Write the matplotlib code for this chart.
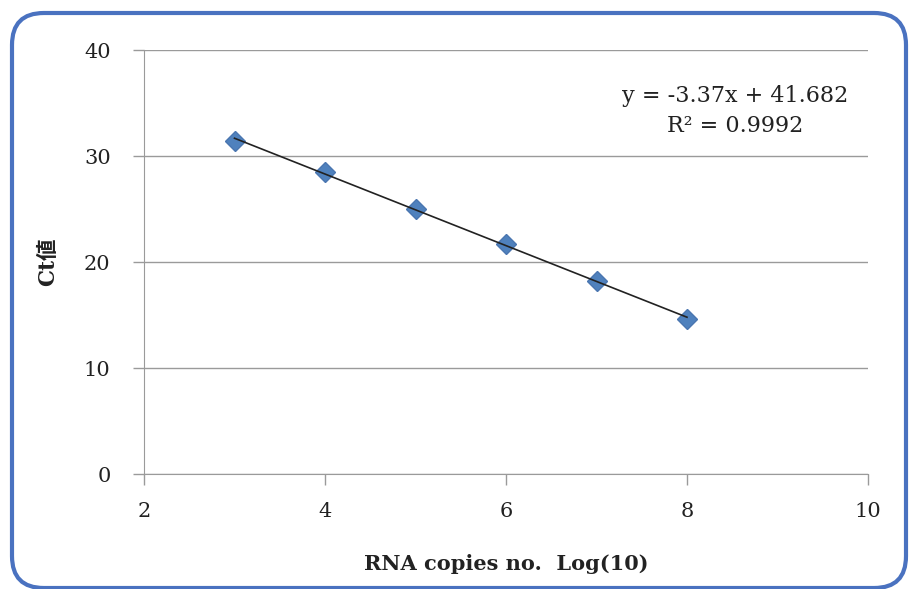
import numpy as np
import matplotlib.pyplot as plt
from matplotlib.patches import FancyBboxPatch

# standard curve data (log10 RNA copies vs Ct)
log_copies = [3, 4, 5, 6, 7, 8]
ct_values = [31.4, 28.5, 25.0, 21.7, 18.2, 14.6]
x_ticks = [2, 4, 6, 8, 10]
y_ticks = [0, 10, 20, 30, 40]

serif = ['DejaVu Serif', 'Noto Sans CJK JP']
W, H = 911, 589

fig = plt.figure(figsize=(W / 100, H / 100), dpi=100)
ax = fig.add_axes([144 / W, 1 - 474 / H, (868 - 144) / W, (474 - 50) / H])

# rounded blue frame
frame = FancyBboxPatch((12 / W, 1 / H), 894 / W, (576 - 1) / H,
                       boxstyle="round,pad=0,rounding_size=0.035",
                       transform=fig.transFigure, fill=False,
                       edgecolor="#4a72c0", linewidth=3.0, clip_on=False,
                       mutation_aspect=W / H)
fig.patches.append(frame)

ax.plot(log_copies, ct_values, linestyle="none", marker="D", markersize=10,
        color="#4f81bd", markeredgecolor="#4a76b0", zorder=3)

slope, intercept = np.polyfit(log_copies, ct_values, 1)
xs = np.array([log_copies[0], log_copies[-1]])
ax.plot(xs, slope * xs + intercept, color="#222222", linewidth=1.2, zorder=4)

ax.set_xlim(2, 10)
ax.set_ylim(0, 40)
ax.set_xticks(x_ticks)
ax.set_yticks(y_ticks)
ax.yaxis.grid(True, color="#9a9a9a", linewidth=1.0)
ax.set_axisbelow(True)
for s in ["top", "right"]:
    ax.spines[s].set_visible(False)
for s in ["left", "bottom"]:
    ax.spines[s].set_color("#9a9a9a")
ax.tick_params(axis="both", colors="#9a9a9a", length=8, width=1.0,
               labelcolor="#222222", labelsize=15)
ax.tick_params(axis="y", pad=16)
ax.tick_params(axis="x", pad=12)
for lab in ax.get_xticklabels() + ax.get_yticklabels():
    lab.set_family(serif)

ax.text(0.817, 0.856, "y = -3.37x + 41.682\nR² = 0.9992", transform=ax.transAxes,
        ha="center", va="center", fontsize=16, family=serif, color="#222222",
        linespacing=1.45)

ax.set_xlabel("RNA copies no.  Log(10)", family=serif, fontsize=15,
              fontweight="bold", labelpad=24, color="#222222")
ax.set_ylabel("Ct値", family=serif, fontsize=15.5, fontweight="bold",
              labelpad=18, color="#222222")

fig.savefig("out.png", dpi=100)
